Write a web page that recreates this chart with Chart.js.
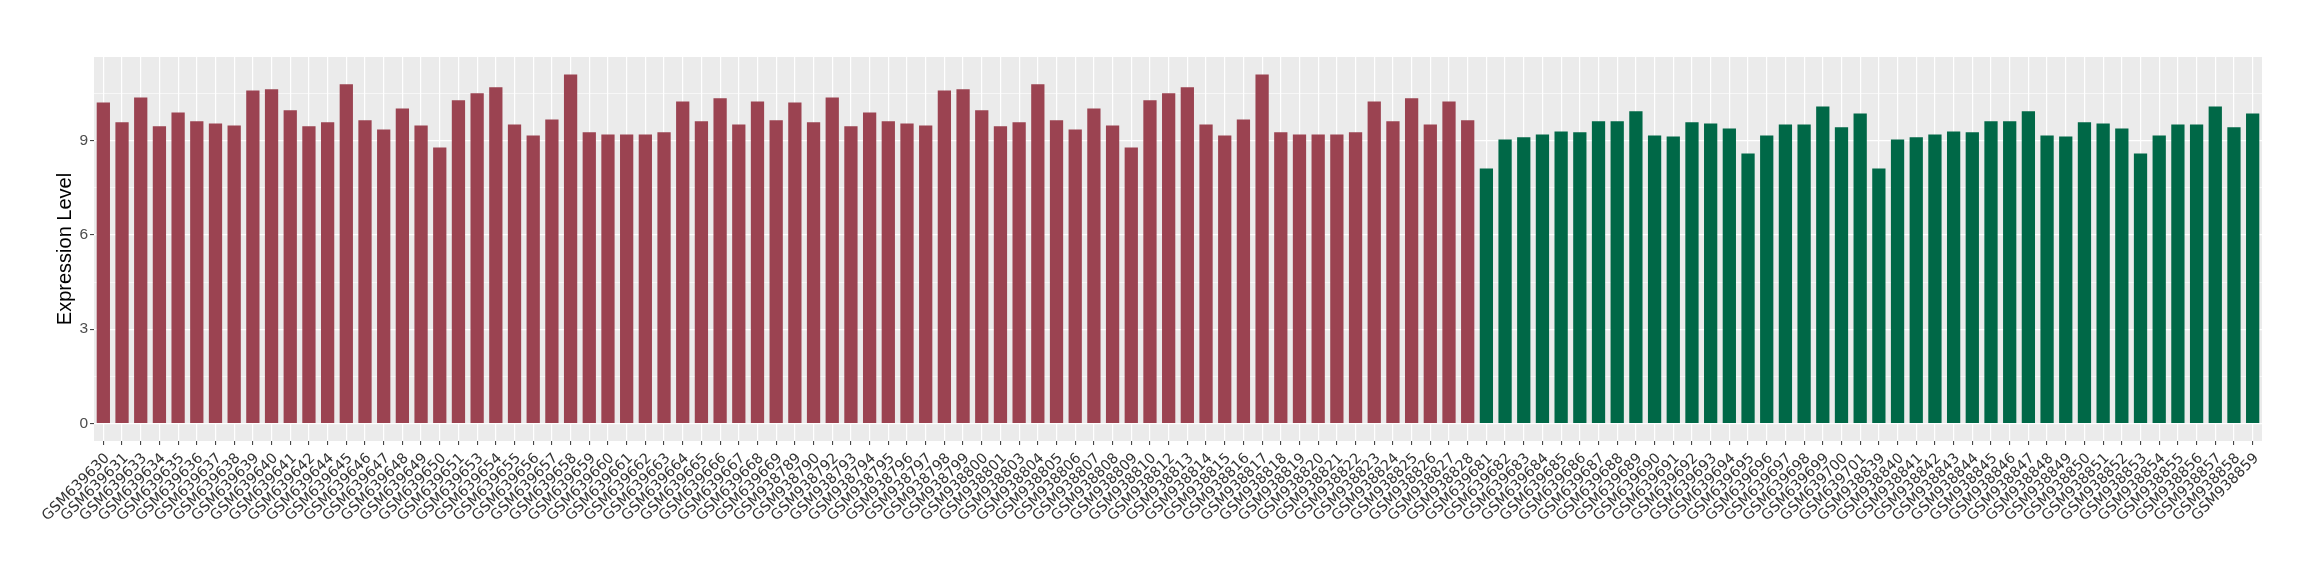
<!DOCTYPE html>
<html>
<head>
<meta charset="utf-8">
<script src="https://cdn.jsdelivr.net/npm/chart.js@4.4.1/dist/chart.umd.min.js"></script>
<style>
    html, body { margin: 0; padding: 0; background: #ffffff; }
</style>
</head>
<body>
<canvas id="graph" width="2320" height="580"></canvas>
<script>
// samples of the first group (red)
const samplesA = [
    "GSM639630", "GSM639631", "GSM639633", "GSM639634", "GSM639635", "GSM639636", "GSM639637", "GSM639638",
    "GSM639639", "GSM639640", "GSM639641", "GSM639642", "GSM639644", "GSM639645", "GSM639646", "GSM639647",
    "GSM639648", "GSM639649", "GSM639650", "GSM639651", "GSM639653", "GSM639654", "GSM639655", "GSM639656",
    "GSM639657", "GSM639658", "GSM639659", "GSM639660", "GSM639661", "GSM639662", "GSM639663", "GSM639664",
    "GSM639665", "GSM639666", "GSM639667", "GSM639668", "GSM639669",
    "GSM938789", "GSM938790", "GSM938792", "GSM938793", "GSM938794", "GSM938795", "GSM938796", "GSM938797",
    "GSM938798", "GSM938799", "GSM938800", "GSM938801", "GSM938803", "GSM938804", "GSM938805", "GSM938806",
    "GSM938807", "GSM938808", "GSM938809", "GSM938810", "GSM938812", "GSM938813", "GSM938814", "GSM938815",
    "GSM938816", "GSM938817", "GSM938818", "GSM938819", "GSM938820", "GSM938821", "GSM938822", "GSM938823",
    "GSM938824", "GSM938825", "GSM938826", "GSM938827", "GSM938828"
];
const valuesA = [
    10.21, 9.58, 10.37, 9.45, 9.89, 9.61, 9.54, 9.48, 10.59, 10.63, 9.96, 9.45, 9.58, 10.79, 9.64, 9.35,
    10.02, 9.48, 8.78, 10.28, 10.50, 10.69, 9.51, 9.16, 9.67, 11.10, 9.26, 9.19, 9.19, 9.19, 9.26, 10.24,
    9.61, 10.34, 9.51, 10.24, 9.64,
    10.21, 9.58, 10.37, 9.45, 9.89, 9.61, 9.54, 9.48, 10.59, 10.63, 9.96, 9.45, 9.58, 10.79, 9.64, 9.35,
    10.02, 9.48, 8.78, 10.28, 10.50, 10.69, 9.51, 9.16, 9.67, 11.10, 9.26, 9.19, 9.19, 9.19, 9.26, 10.24,
    9.61, 10.34, 9.51, 10.24, 9.64
];

// samples of the second group (green)
const samplesB = [
    "GSM639681", "GSM639682", "GSM639683", "GSM639684", "GSM639685", "GSM639686", "GSM639687", "GSM639688",
    "GSM639689", "GSM639690", "GSM639691", "GSM639692", "GSM639693", "GSM639694", "GSM639695", "GSM639696",
    "GSM639697", "GSM639698", "GSM639699", "GSM639700", "GSM639701",
    "GSM938839", "GSM938840", "GSM938841", "GSM938842", "GSM938843", "GSM938844", "GSM938845", "GSM938846",
    "GSM938847", "GSM938848", "GSM938849", "GSM938850", "GSM938851", "GSM938852", "GSM938853", "GSM938854",
    "GSM938855", "GSM938856", "GSM938857", "GSM938858", "GSM938859"
];
const valuesB = [
    8.11, 9.03, 9.10, 9.19, 9.29, 9.26, 9.61, 9.61, 9.93, 9.16, 9.13, 9.58, 9.54, 9.38, 8.59, 9.16,
    9.51, 9.51, 10.08, 9.42, 9.86,
    8.11, 9.03, 9.10, 9.19, 9.29, 9.26, 9.61, 9.61, 9.93, 9.16, 9.13, 9.58, 9.54, 9.38, 8.59, 9.16,
    9.51, 9.51, 10.08, 9.42, 9.86
];

const yTicks = [0, 3, 6, 9];
const yMinor = [1.5, 4.5, 7.5, 10.5];
const Y_LABEL = "Expression Level";

const COLOR_A = "#9B4351";
const COLOR_B = "#006847";

const labels = [...samplesA, ...samplesB];
const values = [...valuesA, ...valuesB];
const colors = [...samplesA.map(() => COLOR_A), ...samplesB.map(() => COLOR_B)];

// grey ggplot-like panel behind the grid
const panelBg = {
    id: "panelBg",
    beforeDraw(chart) {
        const { ctx, chartArea } = chart;
        ctx.save();
        ctx.fillStyle = "#EBEBEB";
        ctx.fillRect(chartArea.left, chartArea.top, chartArea.right - chartArea.left, chartArea.bottom - chartArea.top);
        ctx.restore();
    },
};

const isMajor = (v) => yTicks.includes(v);

new Chart(document.getElementById("graph"), {
    type: "bar",
    data: {
        labels: labels,
        datasets: [
            {
                data: values,
                backgroundColor: colors,
                barPercentage: 0.71,
                categoryPercentage: 1.0,
            },
        ],
    },
    options: {
        responsive: false,
        animation: false,
        layout: {
            padding: { left: 0, right: 58, top: 57, bottom: 0 },
        },
        plugins: {
            legend: { display: false },
            tooltip: { enabled: false },
        },
        scales: {
            x: {
                offset: true,
                border: { display: false },
                grid: {
                    offset: false,
                    color: "#FFFFFF",
                    lineWidth: 1.2,
                    drawTicks: true,
                    tickLength: 4,
                    tickColor: "#333333",
                    tickWidth: 1,
                },
                ticks: {
                    autoSkip: false,
                    minRotation: 45,
                    maxRotation: 45,
                    padding: 5,
                    labelOffset: 4,
                    color: "#333333",
                    font: { family: "DejaVu Sans", size: 14.5 },
                },
                afterFit: (scale) => {
                    scale.height = 139;
                },
            },
            y: {
                min: -0.555,
                max: 11.655,
                border: { display: false },
                afterBuildTicks: (scale) => {
                    scale.ticks = [...yTicks, ...yMinor].sort((a, b) => a - b).map((v) => ({ value: v }));
                },
                grid: {
                    color: "#FFFFFF",
                    lineWidth: (c) => (c.tick && isMajor(c.tick.value) ? 1.2 : 0.6),
                    drawTicks: true,
                    tickLength: 4,
                    tickColor: (c) => (c.tick && isMajor(c.tick.value) ? "#333333" : "rgba(0,0,0,0)"),
                    tickWidth: 1,
                },
                ticks: {
                    padding: 2,
                    color: "#4D4D4D",
                    font: { family: "Liberation Sans", size: 15.5 },
                    callback: (v) => (isMajor(v) ? String(v) : ""),
                },
                title: {
                    display: true,
                    text: Y_LABEL,
                    color: "#000000",
                    padding: { top: 53, bottom: 0 },
                    font: { family: "Liberation Sans", size: 20 },
                },
                afterFit: (scale) => {
                    scale.width = 94;
                },
            },
        },
    },
    plugins: [panelBg],
});
</script>
</body>
</html>
